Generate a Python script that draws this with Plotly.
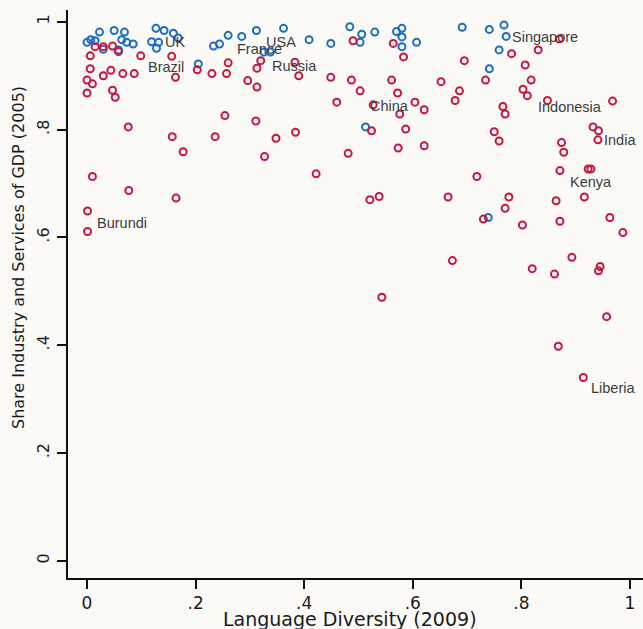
import plotly.graph_objects as go

# High-income countries (blue): language diversity vs. share of industry+services in GDP
blue_x = [0.000, 0.007, 0.023, 0.015, 0.050, 0.069, 0.064, 0.073, 0.085, 0.058,
          0.030, 0.127, 0.142, 0.159, 0.168, 0.119, 0.132, 0.128, 0.205, 0.233,
          0.244, 0.260, 0.285, 0.312, 0.362, 0.326, 0.338, 0.409, 0.449, 0.484,
          0.506, 0.503, 0.530, 0.570, 0.580, 0.580, 0.580, 0.607, 0.513, 0.691,
          0.741, 0.768, 0.772, 0.759, 0.741, 0.739]
blue_y = [0.962, 0.967, 0.981, 0.965, 0.984, 0.981, 0.967, 0.962, 0.959, 0.948,
          0.949, 0.988, 0.984, 0.979, 0.970, 0.963, 0.962, 0.951, 0.922, 0.955,
          0.959, 0.975, 0.973, 0.984, 0.988, 0.944, 0.944, 0.967, 0.960, 0.991,
          0.977, 0.962, 0.981, 0.982, 0.988, 0.972, 0.954, 0.962, 0.805, 0.990,
          0.986, 0.994, 0.973, 0.948, 0.913, 0.637]

# Remaining countries (red)
red_x = [0.015, 0.030, 0.047, 0.058, 0.006, 0.099, 0.156, 0.006, 0.044, 0.030,
         0.066, 0.087, 0.000, 0.010, 0.000, 0.047, 0.052, 0.163, 0.203, 0.230,
         0.260, 0.257, 0.296, 0.313, 0.254, 0.311, 0.076, 0.490, 0.564, 0.583,
         0.320, 0.313, 0.383, 0.390, 0.449, 0.487, 0.503, 0.561, 0.572, 0.460,
         0.527, 0.604, 0.621, 0.576, 0.652, 0.524, 0.587, 0.870, 0.782, 0.831,
         0.695, 0.807, 0.734, 0.818, 0.686, 0.678, 0.803, 0.811, 0.848, 0.766,
         0.770, 0.968, 0.932, 0.750, 0.157, 0.236, 0.177, 0.010, 0.077, 0.164,
         0.001, 0.001, 0.348, 0.384, 0.327, 0.422, 0.481, 0.573, 0.621, 0.521,
         0.538, 0.759, 0.718, 0.665, 0.777, 0.770, 0.730, 0.802, 0.874, 0.878,
         0.871, 0.942, 0.941, 0.923, 0.928, 0.864, 0.916, 0.871, 0.963, 0.987,
         0.673, 0.893, 0.820, 0.861, 0.945, 0.942, 0.957, 0.868, 0.914, 0.543]
red_y = [0.954, 0.954, 0.955, 0.945, 0.937, 0.937, 0.936, 0.913, 0.910, 0.900,
         0.904, 0.904, 0.892, 0.885, 0.868, 0.873, 0.860, 0.897, 0.911, 0.904,
         0.924, 0.904, 0.891, 0.879, 0.826, 0.816, 0.805, 0.965, 0.960, 0.935,
         0.928, 0.914, 0.925, 0.900, 0.897, 0.892, 0.872, 0.892, 0.868, 0.851,
         0.846, 0.851, 0.837, 0.829, 0.889, 0.798, 0.801, 0.968, 0.941, 0.948,
         0.928, 0.920, 0.892, 0.892, 0.872, 0.854, 0.875, 0.863, 0.854, 0.843,
         0.829, 0.853, 0.805, 0.796, 0.787, 0.787, 0.759, 0.713, 0.687, 0.673,
         0.649, 0.611, 0.784, 0.795, 0.750, 0.718, 0.756, 0.766, 0.770, 0.670,
         0.676, 0.779, 0.713, 0.675, 0.675, 0.654, 0.634, 0.623, 0.776, 0.758,
         0.724, 0.798, 0.781, 0.727, 0.727, 0.668, 0.675, 0.630, 0.637, 0.609,
         0.557, 0.563, 0.542, 0.532, 0.546, 0.538, 0.453, 0.398, 0.340, 0.489]

# Country name labels (left edge / vertical centre of the text)
label_names = ["UK", "France", "USA", "Brazil", "Russia", "China", "Singapore",
               "Indonesia", "India", "Kenya", "Burundi", "Liberia"]
label_x = [0.140, 0.273, 0.326, 0.109, 0.337, 0.517, 0.779,
           0.827, 0.948, 0.886, 0.015, 0.924]
label_y = [0.963, 0.950, 0.963, 0.917, 0.919, 0.844, 0.972,
           0.842, 0.781, 0.702, 0.627, 0.320]

tick_vals = [0, 0.2, 0.4, 0.6, 0.8, 1]
tick_text = ["0", ".2", ".4", ".6", ".8", "1"]

x_title = "Language Diversity (2009)"
y_title = "Share Industry and Services of GDP (2005)"

BG = "#fbfaf7"
BLUE = "#1b6ec2"
RED = "#c8163c"
INK = "#1a1a1a"

fig = go.Figure()
fig.add_trace(go.Scatter(
    x=blue_x, y=blue_y, mode="markers",
    marker=dict(symbol="circle-open", size=7, color=BLUE, line=dict(width=2, color=BLUE)),
    hoverinfo="x+y"))
fig.add_trace(go.Scatter(
    x=red_x, y=red_y, mode="markers",
    marker=dict(symbol="circle-open", size=7, color=RED, line=dict(width=2, color=RED)),
    hoverinfo="x+y"))

for name, lx, ly in zip(label_names, label_x, label_y):
    fig.add_annotation(x=lx, y=ly, xref="x", yref="y", text=name, showarrow=False,
                       xanchor="left", yanchor="middle",
                       font=dict(family="Liberation Sans", size=14.5, color="#3a3d3d"))

# Axis titles
fig.add_annotation(x=0.484, y=-0.072, xref="x", yref="paper", text=x_title,
                   showarrow=False, xanchor="center", yanchor="middle",
                   font=dict(family="DejaVu Sans", size=19, color=INK))
fig.add_annotation(x=-0.085, y=0.562, xref="paper", yref="y", text=y_title,
                   textangle=-90, showarrow=False, xanchor="center", yanchor="middle",
                   font=dict(family="DejaVu Sans", size=16, color=INK))

fig.update_layout(
    width=643, height=629,
    margin=dict(l=68, r=0, t=10, b=51),
    paper_bgcolor=BG, plot_bgcolor=BG,
    showlegend=False,
)
fig.update_xaxes(
    range=[-0.035, 1.024], tickvals=tick_vals, ticktext=tick_text,
    showline=True, linecolor="#111", linewidth=2, ticks="outside", ticklen=9,
    tickwidth=2, tickcolor="#111", showgrid=False, zeroline=False,
    tickfont=dict(family="DejaVu Sans", size=17, color=INK), automargin=False,
)
fig.update_yaxes(
    range=[-0.032, 1.022], tickvals=tick_vals, ticktext=tick_text, tickangle=-90,
    showline=True, linecolor="#111", linewidth=2, ticks="outside", ticklen=9,
    tickwidth=2, tickcolor="#111", showgrid=False, zeroline=False,
    ticklabelstandoff=2,
    tickfont=dict(family="DejaVu Sans", size=16, color=INK), automargin=False,
)

fig.write_html("out.html")
